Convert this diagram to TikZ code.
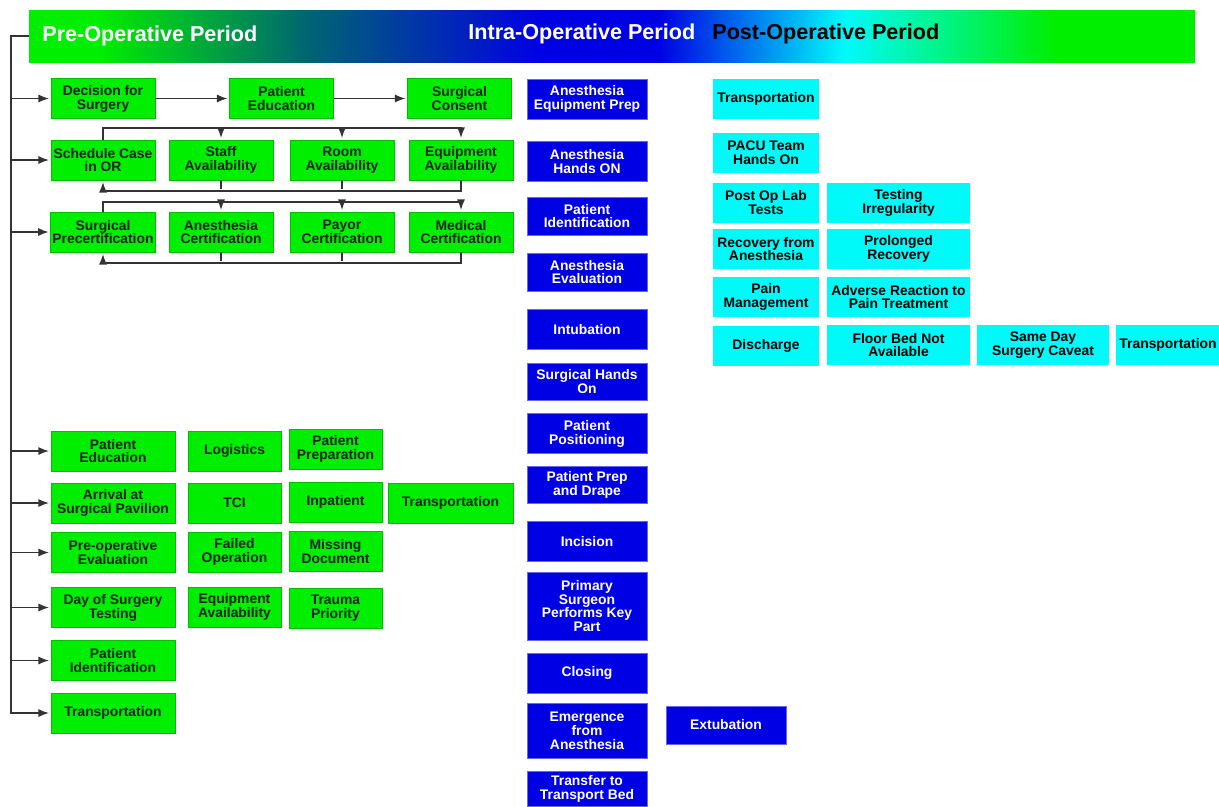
\documentclass[tikz,border=0pt]{standalone}
\usepackage{fontspec}
\setmainfont{Liberation Sans}
\usetikzlibrary{calc,arrows.meta}

\definecolor{preGreen}{RGB}{0,238,0}
\definecolor{intraBlue}{RGB}{0,0,228}
\definecolor{postCyan}{RGB}{0,250,250}
\definecolor{tealMid}{RGB}{0,100,115}
\definecolor{darkText}{RGB}{15,35,15}

\pgfdeclarehorizontalshading{periods}{100bp}{color(0bp)=(preGreen); color(28bp)=(preGreen); color(37bp)=(tealMid); color(47bp)=(intraBlue); color(52bp)=(intraBlue); color(60bp)=(postCyan); color(69bp)=(preGreen); color(100bp)=(preGreen)}

\tikzset{
    >={Latex[length=0.21cm, width=0.16cm]},
    box/.style={rectangle, inner sep=1pt, align=center, minimum height=0.8cm, font=\bfseries\fontsize{7.9}{7.9}\selectfont},
    pre/.style={box, fill=preGreen, draw=preGreen!80!black, line width=0.3pt, text=darkText, minimum width=#1},
    pre/.default=2.08cm,
    intra/.style={box, fill=intraBlue, draw=intraBlue!60!white, line width=0.3pt, text=white, minimum width=2.4cm},
    post/.style={box, fill=postCyan, text=black, minimum width=#1},
    post/.default=2.12cm,
    link/.style={line width=0.8pt, draw=black!80, shorten >=1pt},
    period/.style={anchor=west, inner sep=0pt, font=\bfseries\fontsize{12.3}{12.3}\selectfont}
}

\begin{document}
\begin{tikzpicture}[x=0.02cm, y=-0.02cm]
        \useasboundingbox (0,0) rectangle (1219,806);
        \coordinate (trunkEnd) at (11,713);
        \coordinate (busA) at (0,128);
        \coordinate (busB) at (0,191);
        \coordinate (busC) at (0,202);
        \coordinate (busD) at (0,263);

        % Header.
        \node[shade, shading=periods, minimum width=23.32cm, minimum height=1.04cm, inner sep=0pt] (hdr) at (612,36) {};
        \node[period, text=white] (preT) at (42,36) {Pre-Operative Period};
        \node[period, text=white] (intraT) at (468,34) {Intra-Operative Period};
        \node[period, text=black] (postT) at (712,34) {Post-Operative Period};

        %pre-op, booking
        \node[pre] (dec) at (103,98.5) {Decision for\\Surgery};
        \node[pre] (patEd) at (281.5,98.5) {Patient\\Education};
        \node[pre] (consent) at (459.5,98.5) {Surgical\\Consent};
        \draw[link, ->] (dec) -- (patEd);
        \draw[link, ->] (patEd) -- (consent);

        \node[pre] (sched) at (103,160) {Schedule Case\\in OR};
        \node[pre] (staff) at (221,160) {Staff\\Availability};
        \node[pre] (room) at (342,160) {Room\\Availability};
        \node[pre] (equipA) at (461,160) {Equipment\\Availability};
        \draw[link, ->] (sched.north) -- (sched.north |- busA) -| (equipA.north);
        \draw[link, ->] (equipA.south) -- (equipA.south |- busB) -| (sched.south);
        \foreach \n in {staff,room} {
            \draw[link, ->] (\n.north |- busA) -- (\n.north);
            \draw[link] (\n.south) -- (\n.south |- busB);
        }

        \node[pre] (surgPre) at (103,232) {Surgical\\Precertification};
        \node[pre] (anesCert) at (221,232) {Anesthesia\\Certification};
        \node[pre] (payor) at (342,232) {Payor\\Certification};
        \node[pre] (medCert) at (461,232) {Medical\\Certification};
        \draw[link, ->] (surgPre.north) -- (surgPre.north |- busC) -| (medCert.north);
        \draw[link, ->] (medCert.south) -- (medCert.south |- busD) -| (surgPre.south);
        \foreach \n in {anesCert,payor} {
            \draw[link, ->] (\n.north |- busC) -- (\n.north);
            \draw[link] (\n.south) -- (\n.south |- busD);
        }

        %pre-op, day of surgery
        \node[pre=2.48cm] (edu) at (113,451) {Patient\\Education};
        \node[pre=1.86cm] (logi) at (234.5,451) {Logistics};
        \node[pre=1.86cm] (prep) at (335.5,449) {Patient\\Preparation};
        \node[pre=2.48cm] (arriv) at (113,503) {Arrival at\\Surgical Pavilion};
        \node[pre=1.86cm] (tci) at (234.5,503) {TCI};
        \node[pre=1.86cm] (inpat) at (335.5,502) {Inpatient};
        \node[pre=2.5cm] (trans1) at (450.5,503) {Transportation};
        \node[pre=2.48cm] (eval) at (113,552.5) {Pre-operative\\Evaluation};
        \node[pre=1.86cm] (failed) at (234.5,552) {Failed\\Operation};
        \node[pre=1.86cm] (missing) at (335.5,551.5) {Missing\\Document};
        \node[pre=2.48cm] (dayTest) at (113,607.5) {Day of Surgery\\Testing};
        \node[pre=1.86cm] (eqAv) at (234.5,607) {Equipment\\Availability};
        \node[pre=1.86cm] (trauma) at (335.5,608) {Trauma\\Priority};
        \node[pre=2.48cm] (ident) at (113,660.5) {Patient\\Identification};
        \node[pre=2.48cm] (transp) at (113,713) {Transportation};

        %trunk
        \draw[link, ->] (hdr.west) -| (trunkEnd) -- (transp.west);
        \foreach \n in {dec,sched,surgPre,edu,arriv,eval,dayTest,ident}
            \draw[link, ->] (\n.west -| trunkEnd) -- (\n.west);

        %intra-op
        \node[intra] (aep) at (587,99) {Anesthesia\\Equipment Prep};
        \node[intra] (aho) at (587,161.5) {Anesthesia\\Hands ON};
        \node[intra, minimum height=0.76cm] (pid) at (587,216) {Patient\\Identification};
        \node[intra, minimum height=0.76cm] (aev) at (587,272) {Anesthesia\\Evaluation};
        \node[intra] (intub) at (587,329.5) {Intubation};
        \node[intra, minimum height=0.74cm] (shands) at (587,381.5) {Surgical Hands\\On};
        \node[intra] (ppos) at (587,433.5) {Patient\\Positioning};
        \node[intra, minimum height=0.74cm] (pprep) at (587,484.5) {Patient Prep\\and Drape};
        \node[intra] (incis) at (587,541.5) {Incision};
        \node[intra, minimum height=1.36cm] (pkey) at (587,606) {Primary\\Surgeon\\Performs Key\\Part};
        \node[intra] (closing) at (587,673) {Closing};
        \node[intra, minimum height=1.1cm] (emerg) at (587,730.5) {Emergence\\from\\Anesthesia};
        \node[intra, minimum height=0.76cm] (extub) at (726,725) {Extubation};
        \node[intra, minimum height=0.7cm] (transfer) at (587,788.5) {Transfer to\\Transport Bed};

        %post-op
        \node[post] (ptrans) at (766,99) {Transportation};
        \node[post] (pacu) at (766,153) {PACU Team\\Hands On};
        \node[post] (lab) at (766,202.5) {Post Op Lab\\Tests};
        \node[post=2.86cm] (testIrr) at (898.5,203) {Testing\\Irregularity};
        \node[post] (recov) at (766,249) {Recovery from\\Anesthesia};
        \node[post=2.86cm] (prolong) at (898.5,249) {Prolonged\\Recovery};
        \node[post] (pain) at (766,297) {Pain\\Management};
        \node[post=2.86cm] (adverse) at (898.5,297) {Adverse Reaction to\\Pain Treatment};
        \node[post] (disch) at (766,345.5) {Discharge};
        \node[post=2.86cm] (floorBed) at (898.5,345) {Floor Bed Not\\Available};
        \node[post=2.64cm] (sameDay) at (1043,345) {Same Day\\Surgery Caveat};
        \node[post=2.08cm] (ptrans2) at (1168,345) {Transportation};
\end{tikzpicture}
\end{document}
